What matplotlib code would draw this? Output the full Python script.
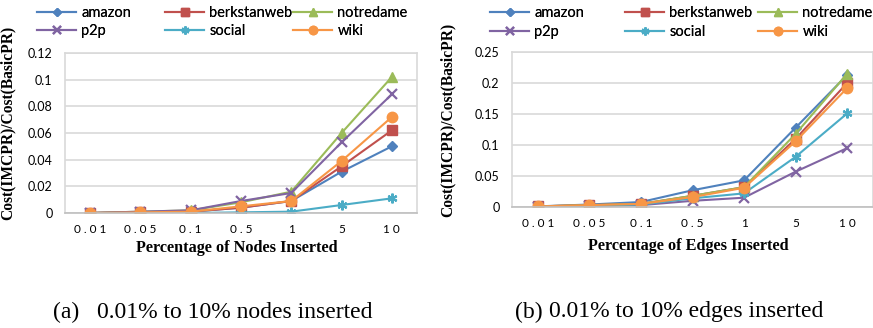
import numpy as np
import matplotlib.pyplot as plt

W, H = 873, 328

categories = ['0.01', '0.05', '0.1', '0.5', '1', '5', '10']
series_names = ['amazon', 'berkstanweb', 'notredame', 'p2p', 'social', 'wiki']

# nodes inserted (a)
nodes_amazon = [0.0, 0.0005, 0.001, 0.004, 0.009, 0.031, 0.050]
nodes_berkstanweb = [0.0, 0.0005, 0.001, 0.004, 0.009, 0.035, 0.062]
nodes_notredame = [0.0, 0.001, 0.002, 0.008, 0.016, 0.060, 0.102]
nodes_p2p = [0.0, 0.001, 0.002, 0.009, 0.015, 0.053, 0.089]
nodes_social = [0.0, 0.0, 0.0, 0.0005, 0.001, 0.006, 0.011]
nodes_wiki = [0.0, 0.0005, 0.001, 0.005, 0.009, 0.039, 0.072]

# edges inserted (b)
edges_amazon = [0.001, 0.004, 0.008, 0.027, 0.043, 0.128, 0.213]
edges_berkstanweb = [0.001, 0.003, 0.005, 0.018, 0.032, 0.110, 0.200]
edges_notredame = [0.001, 0.003, 0.005, 0.018, 0.032, 0.118, 0.215]
edges_p2p = [0.0005, 0.002, 0.003, 0.010, 0.015, 0.057, 0.095]
edges_social = [0.001, 0.002, 0.004, 0.014, 0.022, 0.081, 0.151]
edges_wiki = [0.001, 0.003, 0.005, 0.016, 0.031, 0.106, 0.192]

nodes_yticks = [0, 0.02, 0.04, 0.06, 0.08, 0.1, 0.12]
nodes_yticklabels = ['0', '0.02', '0.04', '0.06', '0.08', '0.1', '0.12']
edges_yticks = [0, 0.05, 0.1, 0.15, 0.2, 0.25]
edges_yticklabels = ['0', '0.05', '0.1', '0.15', '0.2', '0.25']

colors = ['#4F81BD', '#C0504D', '#9BBB59', '#8064A2', '#4BACC6', '#F79646']
markers = ['D', 's', '^', 'x', (6, 2, 0), 'o']
msizes = [5.5, 6.5, 7, 7, 7, 7.5]

SANS = 'Lato'
SERIF = 'Liberation Serif'


def fx(px):
    return px / W


def fy(py):
    return 1 - py / H


def draw_panel(fig, rect, data, yticks, yticklabels, xlabel, caption,
               legend_x, legend_rows, label_x, xlabel_y, cap_x, cap_text_x):
    ax = fig.add_axes(rect)
    x = np.arange(len(categories))
    handles = []
    for vals, c, m, ms in zip(data, colors, markers, msizes):
        mew = 1.6 if m in ('x', (6, 2, 0)) else 1
        h, = ax.plot(x, vals, color=c, lw=1.5, marker=m, ms=ms,
                     mew=mew, mfc=c, mec=c)
        handles.append(h)
    ax.set_xlim(-0.5, len(categories) - 0.5)
    ax.set_ylim(yticks[0], yticks[-1])
    ax.set_yticks(yticks)
    ax.set_yticklabels(yticklabels, fontfamily=SANS, fontsize=9)
    ax.set_xticks(x)
    ax.set_xticklabels([' '.join(c) for c in categories],
                       fontfamily=SANS, fontsize=8.5)
    ax.tick_params(length=0, pad=8)
    ax.tick_params(axis='y', pad=9)
    ax.grid(axis='y', color='#D9D9D9', lw=1.2)
    ax.set_axisbelow(True)
    for s in ax.spines.values():
        s.set_color('#D9D9D9')
        s.set_linewidth(1.2)
    ax.spines['bottom'].set_color('#BFBFBF')

    fig.text(fx(label_x), 0.5 * (rect[1] + rect[1] + rect[3]) + 0.03,
             'Cost(IMCPR)/Cost(BasicPR)', rotation=90, ha='center',
             va='center', fontfamily=SERIF, fontweight='bold', fontsize=11.2)
    fig.text(rect[0] + rect[2] / 2 - 0.005, fy(xlabel_y), xlabel,
             ha='center', va='center', fontfamily=SERIF,
             fontweight='bold', fontsize=11.7)

    # legend: three columns, two rows
    ymid = 0.5 * (legend_rows[0] + legend_rows[1])
    for j in range(3):
        leg = fig.legend(handles[j::3], series_names[j::3],
                         loc='center left',
                         bbox_to_anchor=(fx(legend_x[j]), fy(ymid)),
                         frameon=False, borderpad=0, borderaxespad=0,
                         handlelength=2.7, handletextpad=0.35,
                         labelspacing=0.3, markerscale=0.8,
                         prop={'family': SANS, 'size': 10.5})
        fig.add_artist(leg)

    fig.text(fx(cap_x), fy(312), caption[0], ha='left', va='center',
             fontfamily=SERIF, fontsize=17)
    fig.text(fx(cap_text_x), fy(312), caption[1], ha='left', va='center',
             fontfamily=SERIF, fontsize=17)
    return ax


fig = plt.figure(figsize=(W / 100, H / 100), dpi=100)

nodes_data = [nodes_amazon, nodes_berkstanweb, nodes_notredame,
              nodes_p2p, nodes_social, nodes_wiki]
edges_data = [edges_amazon, edges_berkstanweb, edges_notredame,
              edges_p2p, edges_social, edges_wiki]

draw_panel(fig, [fx(65), fy(213), fx(417 - 65), (213 - 53) / H],
           nodes_data, nodes_yticks, nodes_yticklabels,
           'Percentage of Nodes Inserted',
           ('(a)', '0.01% to 10% nodes inserted'),
           legend_x=[37, 165, 293], legend_rows=[13, 31],
           label_x=8, xlabel_y=248, cap_x=53, cap_text_x=97)

draw_panel(fig, [fx(512), fy(207), fx(873 - 512), (207 - 52) / H],
           edges_data, edges_yticks, edges_yticklabels,
           'Percentage of Edges Inserted',
           ('(b)', '0.01% to 10% edges inserted'),
           legend_x=[490, 625, 758], legend_rows=[12, 33],
           label_x=448, xlabel_y=246, cap_x=515, cap_text_x=549)

fig.savefig('out.png', dpi=100)
